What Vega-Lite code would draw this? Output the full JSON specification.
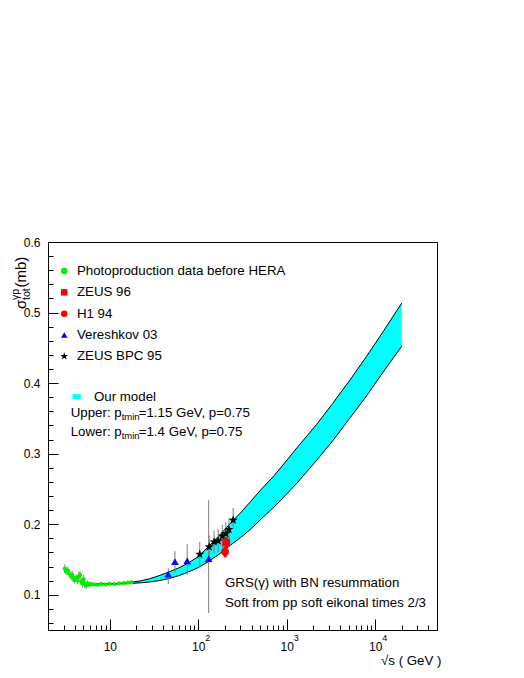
{
  "$schema": "https://vega.github.io/schema/vega-lite/v6.json",
  "width": 389,
  "height": 388,
  "autosize": {"type": "none"},
  "padding": {"left": 48, "top": 242, "right": 87, "bottom": 48},
  "background": "white",
  "config": {
    "font": "Liberation Sans",
    "view": {"stroke": "black", "strokeWidth": 1},
    "axis": {"domainColor": "black", "tickColor": "black", "labelColor": "black", "labelFont": "Liberation Sans", "labelFontSize": 12, "grid": false, "titleFont": "Liberation Sans", "titleColor": "black", "titleFontWeight": "normal"},
    "legend": {"labelFont": "Liberation Sans", "labelFontSize": 13.3, "labelColor": "black", "labelLimit": 400},
    "text": {"font": "Liberation Sans", "color": "black"}
  },
  "datasets": {
    "model": [
      {"s": 5, "lo": 0.1165, "up": 0.1168},
      {"s": 6, "lo": 0.1158, "up": 0.1160},
      {"s": 8, "lo": 0.1152, "up": 0.1155},
      {"s": 10, "lo": 0.1150, "up": 0.1155},
      {"s": 13, "lo": 0.1155, "up": 0.1162},
      {"s": 17, "lo": 0.1160, "up": 0.1175},
      {"s": 22, "lo": 0.1168, "up": 0.1195},
      {"s": 28, "lo": 0.1180, "up": 0.1225},
      {"s": 36, "lo": 0.1200, "up": 0.1270},
      {"s": 46, "lo": 0.1228, "up": 0.1320},
      {"s": 60, "lo": 0.1270, "up": 0.1380},
      {"s": 75, "lo": 0.1315, "up": 0.1440},
      {"s": 100, "lo": 0.1385, "up": 0.1540},
      {"s": 130, "lo": 0.1470, "up": 0.1680},
      {"s": 170, "lo": 0.1570, "up": 0.1830},
      {"s": 230, "lo": 0.1700, "up": 0.2010},
      {"s": 300, "lo": 0.1810, "up": 0.2160},
      {"s": 383, "lo": 0.1920, "up": 0.2310},
      {"s": 520, "lo": 0.2080, "up": 0.2500},
      {"s": 700, "lo": 0.2230, "up": 0.2670},
      {"s": 904, "lo": 0.2369, "up": 0.2837},
      {"s": 1300, "lo": 0.2580, "up": 0.3080},
      {"s": 2190, "lo": 0.2908, "up": 0.3418},
      {"s": 3300, "lo": 0.3180, "up": 0.3710},
      {"s": 5180, "lo": 0.3504, "up": 0.4043},
      {"s": 8000, "lo": 0.3820, "up": 0.4380},
      {"s": 12200, "lo": 0.4149, "up": 0.4723},
      {"s": 20000, "lo": 0.4525, "up": 0.5135}
    ],
    "pts": [
      {"series": "Photoproduction data before HERA", "s": 3.1, "sig": 0.137, "lo": 0.131, "hi": 0.143},
      {"series": "Photoproduction data before HERA", "s": 3.2, "sig": 0.133, "lo": 0.128, "hi": 0.138},
      {"series": "Photoproduction data before HERA", "s": 3.35, "sig": 0.134, "lo": 0.128, "hi": 0.140},
      {"series": "Photoproduction data before HERA", "s": 3.5, "sig": 0.130, "lo": 0.125, "hi": 0.135},
      {"series": "Photoproduction data before HERA", "s": 3.6, "sig": 0.127, "lo": 0.122, "hi": 0.132},
      {"series": "Photoproduction data before HERA", "s": 3.75, "sig": 0.128, "lo": 0.122, "hi": 0.134},
      {"series": "Photoproduction data before HERA", "s": 3.85, "sig": 0.123, "lo": 0.118, "hi": 0.128},
      {"series": "Photoproduction data before HERA", "s": 4.0, "sig": 0.121, "lo": 0.116, "hi": 0.126},
      {"series": "Photoproduction data before HERA", "s": 4.15, "sig": 0.124, "lo": 0.119, "hi": 0.129},
      {"series": "Photoproduction data before HERA", "s": 4.3, "sig": 0.120, "lo": 0.115, "hi": 0.125},
      {"series": "Photoproduction data before HERA", "s": 4.45, "sig": 0.126, "lo": 0.120, "hi": 0.132},
      {"series": "Photoproduction data before HERA", "s": 4.6, "sig": 0.128, "lo": 0.122, "hi": 0.134},
      {"series": "Photoproduction data before HERA", "s": 4.75, "sig": 0.119, "lo": 0.114, "hi": 0.124},
      {"series": "Photoproduction data before HERA", "s": 4.9, "sig": 0.116, "lo": 0.110, "hi": 0.122},
      {"series": "Photoproduction data before HERA", "s": 5.05, "sig": 0.122, "lo": 0.116, "hi": 0.128},
      {"series": "Photoproduction data before HERA", "s": 5.2, "sig": 0.115, "lo": 0.110, "hi": 0.120},
      {"series": "Photoproduction data before HERA", "s": 5.4, "sig": 0.113, "lo": 0.108, "hi": 0.118},
      {"series": "Photoproduction data before HERA", "s": 5.6, "sig": 0.116, "lo": 0.112, "hi": 0.120},
      {"series": "Photoproduction data before HERA", "s": 5.85, "sig": 0.114, "lo": 0.110, "hi": 0.118},
      {"series": "Photoproduction data before HERA", "s": 6.2, "sig": 0.115, "lo": 0.112, "hi": 0.118},
      {"series": "Photoproduction data before HERA", "s": 6.7, "sig": 0.1145, "lo": 0.112, "hi": 0.117},
      {"series": "Photoproduction data before HERA", "s": 7.3, "sig": 0.114, "lo": 0.112, "hi": 0.117},
      {"series": "Photoproduction data before HERA", "s": 8.0, "sig": 0.115, "lo": 0.113, "hi": 0.117},
      {"series": "Photoproduction data before HERA", "s": 8.9, "sig": 0.1145, "lo": 0.112, "hi": 0.117},
      {"series": "Photoproduction data before HERA", "s": 10.0, "sig": 0.1155, "lo": 0.113, "hi": 0.118},
      {"series": "Photoproduction data before HERA", "s": 11.3, "sig": 0.115, "lo": 0.113, "hi": 0.117},
      {"series": "Photoproduction data before HERA", "s": 12.7, "sig": 0.116, "lo": 0.114, "hi": 0.118},
      {"series": "Photoproduction data before HERA", "s": 14.3, "sig": 0.1165, "lo": 0.114, "hi": 0.119},
      {"series": "Photoproduction data before HERA", "s": 16.0, "sig": 0.117, "lo": 0.115, "hi": 0.119},
      {"series": "Photoproduction data before HERA", "s": 17.5, "sig": 0.1175, "lo": 0.115, "hi": 0.120},
      {"series": "Vereshkov 03", "s": 45.8, "sig": 0.129, "lo": 0.115, "hi": 0.138},
      {"series": "Vereshkov 03", "s": 54.5, "sig": 0.147, "lo": 0.131, "hi": 0.162},
      {"series": "Vereshkov 03", "s": 75, "sig": 0.148, "lo": 0.128, "hi": 0.172},
      {"series": "Vereshkov 03", "s": 131, "sig": 0.151, "lo": 0.074, "hi": 0.234},
      {"series": "ZEUS BPC 95", "s": 104, "sig": 0.1574, "lo": 0.140, "hi": 0.175},
      {"series": "ZEUS BPC 95", "s": 133, "sig": 0.1678, "lo": 0.152, "hi": 0.184},
      {"series": "ZEUS BPC 95", "s": 151, "sig": 0.1749, "lo": 0.159, "hi": 0.191},
      {"series": "ZEUS BPC 95", "s": 168, "sig": 0.1763, "lo": 0.160, "hi": 0.193},
      {"series": "ZEUS BPC 95", "s": 187, "sig": 0.183, "lo": 0.167, "hi": 0.199},
      {"series": "ZEUS BPC 95", "s": 205, "sig": 0.1868, "lo": 0.171, "hi": 0.203},
      {"series": "ZEUS BPC 95", "s": 222, "sig": 0.1925, "lo": 0.177, "hi": 0.208},
      {"series": "ZEUS BPC 95", "s": 248, "sig": 0.2057, "lo": 0.196, "hi": 0.223},
      {"series": "ZEUS 96", "s": 207, "sig": 0.174, "lo": 0.160, "hi": 0.182},
      {"series": "H1 94", "s": 201, "sig": 0.161, "lo": 0.153, "hi": 0.168}
    ],
    "notes": [
      {"s": 200.4, "sig": 0.1163, "t": "GRS(γ) with BN resummation"},
      {"s": 200.4, "sig": 0.0879, "t": "Soft from pp soft eikonal times 2/3"}
    ],
    "params": [
      {"s": 3.612, "sig": 0.357, "a": "Upper: p", "sub": "tmin", "b": "=1.15 GeV, p=0.75"},
      {"s": 3.612, "sig": 0.331, "a": "Lower: p", "sub": "tmin", "b": "=1.4 GeV, p=0.75"}
    ],
    "xsup": [
      {"s": 100, "t": "2"},
      {"s": 1000, "t": "3"},
      {"s": 10000, "t": "4"}
    ],
    "ytitle": [
      {"s": 1.13, "sig": 0.505, "a": "σ", "sub": "tot", "sup": "γp", "b": "(mb)"}
    ]
  },
  "layer": [
    {
      "data": {"name": "model"},
      "mark": {"type": "area", "opacity": 1},
      "encoding": {
        "x": {"field": "s", "type": "quantitative", "scale": {"type": "log", "domain": [2, 50000], "nice": false},
          "axis": {"orient": "bottom", "values": [10, 100, 1000, 10000], "labelExpr": "'10'", "tickSize": -11, "labelPadding": 22, "labelFlush": false, "labelOverlap": false,
            "title": "√s ( GeV )", "titleAnchor": "end", "titleAlign": "right", "titleX": 393, "titleY": 34, "titleBaseline": "alphabetic", "titleFontSize": 13.3}},
        "y": {"field": "lo", "type": "quantitative", "scale": {"domain": [0.05, 0.6], "nice": false, "zero": false},
          "axis": {"orient": "left", "values": [0.1, 0.2, 0.3, 0.4, 0.5, 0.6], "format": ".1f", "tickSize": -10, "labelPadding": 18, "labelFlush": false, "title": null}},
        "y2": {"field": "up"},
        "fill": {"datum": "Our model", "type": "nominal", "scale": {"range": ["#00ffff"]},
          "legend": {"orient": "none", "legendX": 22, "legendY": 148, "title": null, "symbolType": "M-1,-0.6H1V0.6H-1Z", "symbolSize": 70, "symbolStrokeWidth": 0, "labelOffset": 10.6, "labelFontSize": 13.3}}
      }
    },
    {
      "data": {"name": "model"},
      "mark": {"type": "line", "color": "black", "strokeWidth": 1},
      "encoding": {
        "x": {"field": "s", "type": "quantitative", "scale": {"type": "log", "domain": [2, 50000], "nice": false}, "axis": null},
        "y": {"field": "up", "type": "quantitative", "scale": {"domain": [0.05, 0.6], "nice": false, "zero": false}, "axis": null}
      }
    },
    {
      "data": {"name": "model"},
      "mark": {"type": "line", "color": "black", "strokeWidth": 1},
      "encoding": {
        "x": {"field": "s", "type": "quantitative", "scale": {"type": "log", "domain": [2, 50000], "nice": false}, "axis": null},
        "y": {"field": "lo", "type": "quantitative", "scale": {"domain": [0.05, 0.6], "nice": false, "zero": false}, "axis": null}
      }
    },
    {
      "data": {"name": "pts"},
      "mark": {"type": "rule"},
      "encoding": {
        "x": {"field": "s", "type": "quantitative", "scale": {"type": "log", "domain": [2, 50000], "nice": false}, "axis": null},
        "y": {"field": "lo", "type": "quantitative", "scale": {"domain": [0.05, 0.6], "nice": false, "zero": false}, "axis": null},
        "y2": {"field": "hi"},
        "color": {"condition": {"test": "datum.series == 'ZEUS 96' || datum.series == 'H1 94'", "value": "#ff0000"}, "value": "#808080"},
        "strokeWidth": {"condition": {"test": "datum.series == 'ZEUS 96' || datum.series == 'H1 94'", "value": 3}, "value": 1}
      }
    },
    {
      "data": {"name": "pts"},
      "transform": [{"filter": "datum.series == 'Photoproduction data before HERA'"}],
      "mark": {"type": "point", "filled": true, "size": 18, "opacity": 1},
      "encoding": {
        "x": {"field": "s", "type": "quantitative", "scale": {"type": "log", "domain": [2, 50000], "nice": false},
          "axis": {"orient": "bottom", "values": [3, 4, 5, 6, 7, 8, 9, 20, 30, 40, 50, 60, 70, 80, 90, 200, 300, 400, 500, 600, 700, 800, 900, 2000, 3000, 4000, 5000, 6000, 7000, 8000, 9000, 20000, 30000, 40000], "labels": false, "tickSize": -5, "title": null}},
        "y": {"field": "sig", "type": "quantitative", "scale": {"domain": [0.05, 0.6], "nice": false, "zero": false},
          "axis": {"orient": "left", "values": [0.06, 0.08, 0.12, 0.14, 0.16, 0.18, 0.22, 0.24, 0.26, 0.28, 0.32, 0.34, 0.36, 0.38, 0.42, 0.44, 0.46, 0.48, 0.52, 0.54, 0.56, 0.58], "labels": false, "tickSize": -5, "title": null}},
        "color": {"field": "series", "type": "nominal",
          "scale": {"domain": ["Photoproduction data before HERA", "ZEUS 96", "H1 94", "Vereshkov 03", "ZEUS BPC 95"], "range": ["#00ee00", "#ff0000", "#ff0000", "#0000ff", "#000000"]},
          "legend": {"orient": "none", "legendX": 9.6, "legendY": 22.4, "title": null, "symbolSize": 42, "symbolStrokeWidth": 0, "labelOffset": 6, "rowPadding": 7.3, "labelFontSize": 13.3, "direction": "vertical"}},
        "shape": {"field": "series", "type": "nominal",
          "scale": {"domain": ["Photoproduction data before HERA", "ZEUS 96", "H1 94", "Vereshkov 03", "ZEUS BPC 95"], "range": ["circle", "square", "circle", "triangle-up", "M0,-1.25L0.294,-0.405L1.189,-0.386L0.475,0.155L0.735,1.011L0,0.5L-0.735,1.011L-0.475,0.155L-1.189,-0.386L-0.294,-0.405Z"]},
          "legend": {"orient": "none", "legendX": 9.6, "legendY": 22.4, "title": null, "symbolSize": 42, "symbolStrokeWidth": 0, "labelOffset": 6, "rowPadding": 7.3, "labelFontSize": 13.3, "direction": "vertical"}}
      }
    },
    {
      "data": {"name": "pts"},
      "transform": [{"filter": "datum.series != 'Photoproduction data before HERA'"}],
      "mark": {"type": "point", "filled": true, "size": 60, "opacity": 1},
      "encoding": {
        "x": {"field": "s", "type": "quantitative", "scale": {"type": "log", "domain": [2, 50000], "nice": false}, "axis": null},
        "y": {"field": "sig", "type": "quantitative", "scale": {"domain": [0.05, 0.6], "nice": false, "zero": false}, "axis": null},
        "color": {"field": "series", "type": "nominal",
          "scale": {"domain": ["Photoproduction data before HERA", "ZEUS 96", "H1 94", "Vereshkov 03", "ZEUS BPC 95"], "range": ["#00ee00", "#ff0000", "#ff0000", "#0000ff", "#000000"]},
          "legend": {"orient": "none", "legendX": 9.6, "legendY": 22.4, "title": null, "symbolSize": 42, "symbolStrokeWidth": 0, "labelOffset": 6, "rowPadding": 7.3, "labelFontSize": 13.3, "direction": "vertical"}},
        "shape": {"field": "series", "type": "nominal",
          "scale": {"domain": ["Photoproduction data before HERA", "ZEUS 96", "H1 94", "Vereshkov 03", "ZEUS BPC 95"], "range": ["circle", "square", "circle", "triangle-up", "M0,-1.25L0.294,-0.405L1.189,-0.386L0.475,0.155L0.735,1.011L0,0.5L-0.735,1.011L-0.475,0.155L-1.189,-0.386L-0.294,-0.405Z"]},
          "legend": {"orient": "none", "legendX": 9.6, "legendY": 22.4, "title": null, "symbolSize": 42, "symbolStrokeWidth": 0, "labelOffset": 6, "rowPadding": 7.3, "labelFontSize": 13.3, "direction": "vertical"}}
      }
    },
    {
      "data": {"name": "notes"},
      "mark": {"type": "text", "align": "left", "baseline": "middle", "fontSize": 13.3},
      "encoding": {
        "x": {"field": "s", "type": "quantitative", "scale": {"type": "log", "domain": [2, 50000], "nice": false}, "axis": null},
        "y": {"field": "sig", "type": "quantitative", "scale": {"domain": [0.05, 0.6], "nice": false, "zero": false}, "axis": null},
        "text": {"field": "t"}
      }
    },
    {
      "data": {"name": "params"},
      "mark": {"type": "text", "align": "left", "baseline": "middle", "fontSize": 13.3},
      "encoding": {
        "x": {"field": "s", "type": "quantitative", "scale": {"type": "log", "domain": [2, 50000], "nice": false}, "axis": null},
        "y": {"field": "sig", "type": "quantitative", "scale": {"domain": [0.05, 0.6], "nice": false, "zero": false}, "axis": null},
        "text": {"field": "a"}
      }
    },
    {
      "data": {"name": "params"},
      "mark": {"type": "text", "align": "left", "baseline": "middle", "fontSize": 9.5, "dx": 51, "dy": 4},
      "encoding": {
        "x": {"field": "s", "type": "quantitative", "scale": {"type": "log", "domain": [2, 50000], "nice": false}, "axis": null},
        "y": {"field": "sig", "type": "quantitative", "scale": {"domain": [0.05, 0.6], "nice": false, "zero": false}, "axis": null},
        "text": {"field": "sub"}
      }
    },
    {
      "data": {"name": "params"},
      "mark": {"type": "text", "align": "left", "baseline": "middle", "fontSize": 13.3, "dx": 68},
      "encoding": {
        "x": {"field": "s", "type": "quantitative", "scale": {"type": "log", "domain": [2, 50000], "nice": false}, "axis": null},
        "y": {"field": "sig", "type": "quantitative", "scale": {"domain": [0.05, 0.6], "nice": false, "zero": false}, "axis": null},
        "text": {"field": "b"}
      }
    },
    {
      "data": {"name": "xsup"},
      "mark": {"type": "text", "align": "left", "baseline": "middle", "fontSize": 9, "dx": 7, "dy": 8},
      "encoding": {
        "x": {"field": "s", "type": "quantitative", "scale": {"type": "log", "domain": [2, 50000], "nice": false}, "axis": null},
        "y": {"datum": 0.05, "type": "quantitative", "scale": {"domain": [0.05, 0.6], "nice": false, "zero": false}, "axis": null},
        "text": {"field": "t"}
      }
    },
    {
      "data": {"name": "ytitle"},
      "mark": {"type": "text", "align": "left", "baseline": "alphabetic", "fontSize": 15, "angle": 270},
      "encoding": {
        "x": {"field": "s", "type": "quantitative", "scale": {"type": "log", "domain": [2, 50000], "nice": false}, "axis": null},
        "y": {"field": "sig", "type": "quantitative", "scale": {"domain": [0.05, 0.6], "nice": false, "zero": false}, "axis": null},
        "text": {"field": "a"}
      }
    },
    {
      "data": {"name": "ytitle"},
      "mark": {"type": "text", "align": "left", "baseline": "alphabetic", "fontSize": 10.5, "angle": 270, "dx": 9, "dy": 3.5},
      "encoding": {
        "x": {"field": "s", "type": "quantitative", "scale": {"type": "log", "domain": [2, 50000], "nice": false}, "axis": null},
        "y": {"field": "sig", "type": "quantitative", "scale": {"domain": [0.05, 0.6], "nice": false, "zero": false}, "axis": null},
        "text": {"field": "sub"}
      }
    },
    {
      "data": {"name": "ytitle"},
      "mark": {"type": "text", "align": "left", "baseline": "alphabetic", "fontSize": 10.5, "angle": 270, "dx": 9, "dy": -7.5},
      "encoding": {
        "x": {"field": "s", "type": "quantitative", "scale": {"type": "log", "domain": [2, 50000], "nice": false}, "axis": null},
        "y": {"field": "sig", "type": "quantitative", "scale": {"domain": [0.05, 0.6], "nice": false, "zero": false}, "axis": null},
        "text": {"field": "sup"}
      }
    },
    {
      "data": {"name": "ytitle"},
      "mark": {"type": "text", "align": "left", "baseline": "alphabetic", "fontSize": 15, "angle": 270, "dx": 21.5},
      "encoding": {
        "x": {"field": "s", "type": "quantitative", "scale": {"type": "log", "domain": [2, 50000], "nice": false}, "axis": null},
        "y": {"field": "sig", "type": "quantitative", "scale": {"domain": [0.05, 0.6], "nice": false, "zero": false}, "axis": null},
        "text": {"field": "b"}
      }
    }
  ],
  "resolve": {"axis": {"x": "independent", "y": "independent"}}
}
